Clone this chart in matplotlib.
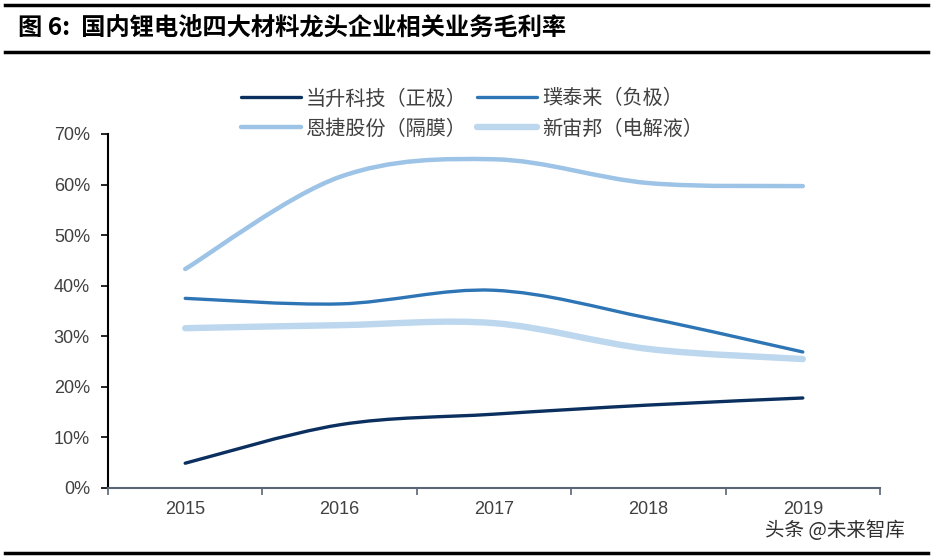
import numpy as np
import matplotlib.pyplot as plt
from matplotlib.path import Path
from matplotlib.patches import PathPatch
from matplotlib.lines import Line2D

plt.rcParams['font.family'] = ['Noto Sans CJK SC', 'DejaVu Sans']

years = ['2015', '2016', '2017', '2018', '2019']
names = ['当升科技（正极）', '璞泰来（负极）', '恩捷股份（隔膜）', '新宙邦（电解液）']
dangsheng = [0.049, 0.125, 0.146, 0.164, 0.178]
putailai = [0.375, 0.364, 0.391, 0.336, 0.269]
enjie = [0.433, 0.615, 0.650, 0.603, 0.597]
xinzhoubang = [0.316, 0.322, 0.326, 0.275, 0.255]

colors = ['#0b2f5e', '#2e75b6', '#9dc3e6', '#bdd7ee']
widths = [2.4, 2.4, 3.2, 4.6]


def smooth_path(xs, ys):
    # bezier through the points, like excel's smoothed line
    p = np.column_stack([xs, ys]).astype(float)
    ext = np.vstack([p[0], p, p[-1]])
    verts = [p[0]]
    codes = [Path.MOVETO]
    for i in range(len(p) - 1):
        p0, p1, p2, p3 = ext[i], ext[i + 1], ext[i + 2], ext[i + 3]
        c1 = p1 + (p2 - p0) / 6
        c2 = p2 - (p3 - p1) / 6
        verts += [c1, c2, p2]
        codes += [Path.CURVE4] * 3
    return Path(verts, codes)


fig = plt.figure(figsize=(9.33, 5.6), dpi=100)
ax = fig.add_axes([108 / 933, 72 / 560, 772 / 933, 354 / 560])

x = np.arange(len(years))
series = [dangsheng, putailai, enjie, xinzhoubang]
handles = []
for vals, c, w, n in zip(series, colors, widths, names):
    patch = PathPatch(smooth_path(x, vals), facecolor='none', edgecolor=c,
                      lw=w, capstyle='round', joinstyle='round')
    ax.add_patch(patch)
    handles.append(Line2D([], [], color=c, lw=w, solid_capstyle='round', label=n))

ax.set_xlim(-0.5, 4.5)
ax.set_ylim(0, 0.7)
ax.set_yticks(np.arange(0, 0.71, 0.1))
ax.set_yticklabels(['%d%%' % (v * 100) for v in np.arange(0, 0.71, 0.1).round(2)],
                   family='Liberation Sans', fontsize=13, color='#404040')
ax.set_xticks(x)
ax.set_xticklabels(years, family='Liberation Sans', fontsize=13, color='#404040')
ax.set_xticks(np.arange(-0.5, 4.6, 1), minor=True)
ax.tick_params(axis='x', which='major', length=0, pad=9)
ax.tick_params(axis='x', which='minor', length=5, color='#5a6676', width=1.2, direction='out')
ax.tick_params(axis='y', length=5, width=1.2, color='black', pad=8)
for s in ['top', 'right']:
    ax.spines[s].set_visible(False)
ax.spines['left'].set_linewidth(1.5)
ax.spines['bottom'].set_color('#5a6676')
ax.spines['bottom'].set_linewidth(1.5)

# row-major order in the legend
order = [0, 2, 1, 3]
leg = fig.legend(handles=[handles[i] for i in order], ncol=2, loc='center',
                 bbox_to_anchor=(472 / 933, 1 - 114 / 560),
                 frameon=False, fontsize=14.5, handlelength=3.0, columnspacing=0.5,
                 handletextpad=0.25, labelspacing=0.45)
for t in leg.get_texts():
    t.set_color('#404040')

# header / footer rules
fig.add_artist(Line2D([0.005, 0.995], [1 - 5 / 560] * 2, color='black', lw=2.5))
fig.add_artist(Line2D([0.005, 0.995], [1 - 52 / 560] * 2, color='black', lw=2.5))
fig.add_artist(Line2D([0.005, 0.995], [1 - 553 / 560] * 2, color='black', lw=2.5))
fig.text(18 / 933, 1 - 29 / 560, '图 6:  国内锂电池四大材料龙头企业相关业务毛利率',
         fontsize=17.5, fontweight='bold', va='center', ha='left')
fig.text(905 / 933, 1 - 530 / 560, '头条 @未来智库', fontsize=14, color='#303030',
         va='center', ha='right')

fig.savefig('out.png', dpi=100)
